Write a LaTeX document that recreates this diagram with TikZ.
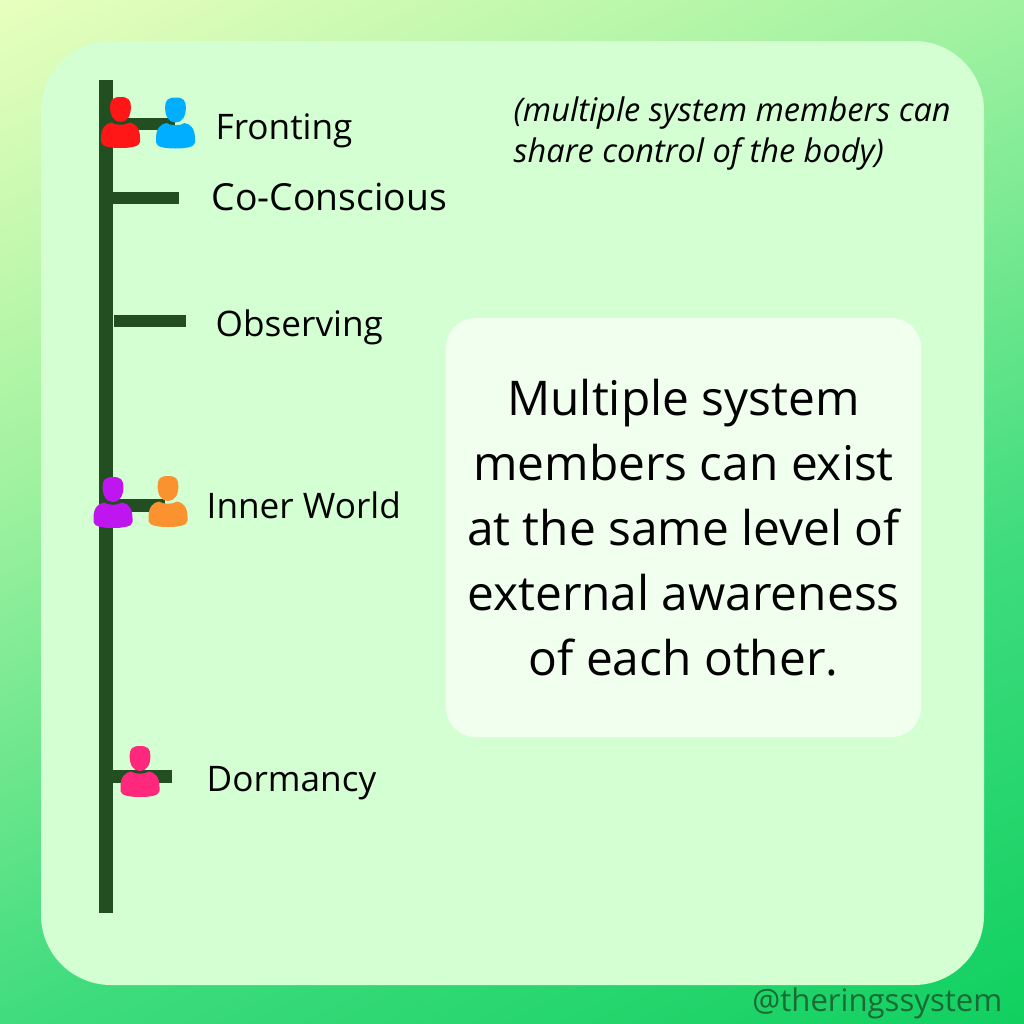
\documentclass[tikz,border=0pt]{standalone}
\usepackage{fontspec}
\setmainfont{Open Sans}
\usetikzlibrary{positioning}

\definecolor{spinegreen}{HTML}{214F22}
\definecolor{panelgreen}{HTML}{D4FFD2}
\definecolor{boxgreen}{HTML}{F0FFEE}
\definecolor{handlegreen}{HTML}{1B6A35}
\definecolor{bgstart}{HTML}{E8FFBE}
\definecolor{bglight}{HTML}{A0F2A0}
\definecolor{bgdeep}{HTML}{40DC7E}
\definecolor{bgend}{HTML}{10D060}

\pgfdeclareverticalshading{bgfade}{100bp}{color(0bp)=(bgend); color(16.65bp)=(bgend); color(38.25bp)=(bgdeep); color(61.75bp)=(bglight); color(83.35bp)=(bgstart); color(100bp)=(bgstart)}

\begin{document}
\begin{tikzpicture}[
    x=0.01cm, y=-0.01cm,
    level/.style={anchor=base west, inner sep=0pt, font=\fontsize{10}{12}\selectfont},
    spine/.style={line width=0.13cm, draw=spinegreen},
    rung/.style={line width=0.125cm, draw=spinegreen},
    member/.pic={
        \fill (0,0) .. controls (8,0) and (10.4,3) .. (10.4,10) .. controls (10.4,19) and (6.5,25) .. (0,25)
            .. controls (-6.5,25) and (-10.4,19) .. (-10.4,10) .. controls (-10.4,3) and (-8,0) .. (0,0) -- cycle;
        \fill (-9,25.5) .. controls (-5,28.5) and (5,28.5) .. (9,25.5) .. controls (15,26.5) and (19.5,31) .. (19.5,41)
            -- (19.5,45) .. controls (19.5,50) and (8,51) .. (0,51) .. controls (-8,51) and (-19.5,50) .. (-19.5,45)
            -- (-19.5,41) .. controls (-19.5,31) and (-15,26.5) .. (-9,25.5) -- cycle;
    }
]
\useasboundingbox (0,0) rectangle (1024,1024);

% Background and panels
\path[shade, shading=bgfade, shading angle=25.6] (0,0) rectangle (1024,1024);
\fill[panelgreen, rounded corners=0.7cm] (41,41) rectangle (984,985);
\node[fill=boxgreen, rounded corners=0.3cm, minimum width=4.75cm, minimum height=4.19cm, inner sep=0pt,
      align=center, font=\fontsize{13.6}{18.5}\selectfont] (msg) at (683.5,527.5)
    {Multiple system\\members can exist\\at the same level of\\external awareness\\of each other.};

% Level axis
\coordinate (top) at (106,80);
\coordinate (bottom) at (106,913);
\draw[spine] (top) -- (bottom);

\draw[rung] (106,124) coordinate (a1) -- (175,124) coordinate (a2);
\draw[rung] (106,198) coordinate (b1) -- (179,198) coordinate (b2);
\draw[rung] (114,321) coordinate (c1) -- (186,321) coordinate (c2);
\draw[rung] (106,505.5) coordinate (d1) -- (165,505.5) coordinate (d2);
\draw[rung] (106,776.5) coordinate (e1) -- (172,776.5) coordinate (e2);

% Level names
\node[level] (fronting) at (215,139) {Fronting};
\node[level, font=\fontsize{10.6}{12}\selectfont] (coconscious) at (211,210) {Co-Conscious};
\node[level] (observing) at (215,336) {Observing};
\node[level] (innerworld) at (206,518) {Inner World};
\node[level] (dormancy) at (206,791) {Dormancy};

% System members
\pic[fill={rgb,255:red,255;green,22;blue,22}] at (120.5,97) {member};
\pic[fill={rgb,255:red,0;green,174;blue,255}] at (175.5,97.5) {member};
\pic[fill={rgb,255:red,191;green,22;blue,240}] at (113,477) {member};
\pic[fill={rgb,255:red,250;green,146;blue,48}] at (168,476) {member};
\pic[fill={rgb,255:red,255;green,40;blue,125}] at (140,746) {member};

% Side note and handle
\node[anchor=base west, inner sep=0pt, align=left, font=\fontsize{9.25}{11.6}\selectfont\itshape] (note) at (513,162)
    {(multiple system members can\\share control of the body)};
\node[anchor=base east, inner sep=0pt, text=handlegreen, font=\fontsize{8.85}{10}\selectfont] (handle) at (1003,1011) {@theringssystem};
\end{tikzpicture}
\end{document}
